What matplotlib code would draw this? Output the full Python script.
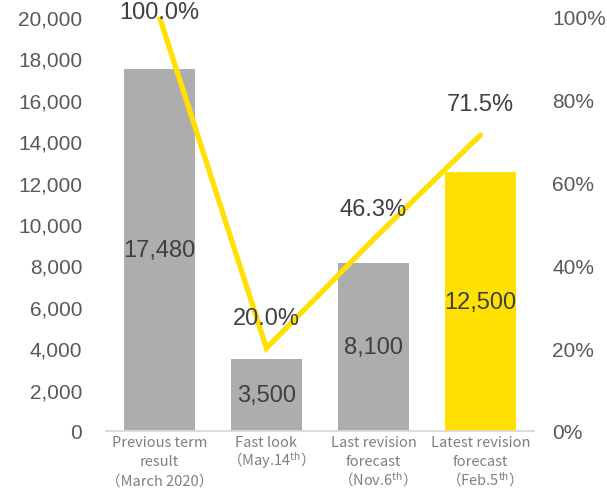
import matplotlib as mpl
import matplotlib.pyplot as plt
import numpy as np
from matplotlib.ticker import FuncFormatter, MultipleLocator

categories = [
    ["Previous term", "result", "（March 2020）"],
    ["Fast look", "（May.14$^{\\mathrm{th}}$）"],
    ["Last revision", "forecast", "（Nov.6$^{\\mathrm{th}}$）"],
    ["Latest revision", "forecast", "（Feb.5$^{\\mathrm{th}}$）"],
]
amounts = [17480, 3500, 8100, 12500]
ratios = [100.0, 20.0, 46.3, 71.5]

GRAY = "#ADADAD"
YELLOW = "#FFE000"
TICK_COLOR = "#595959"
LABEL_COLOR = "#404040"
CAT_COLOR = "#7F7F7F"

mpl.rcParams.update(
    {
        "font.family": ["Liberation Sans", "DejaVu Sans"],
        "mathtext.fontset": "custom",
        "mathtext.rm": "Noto Sans CJK JP",
        "mathtext.it": "Noto Sans CJK JP",
        "mathtext.bf": "Noto Sans CJK JP",
    }
)

fig = plt.figure(figsize=(6.07, 4.89), dpi=100)
ax = fig.add_axes([0.1746, 0.1166, 0.7051, 0.8466])

x = np.arange(len(amounts))
bar_colors = [GRAY, GRAY, GRAY, YELLOW]
bars = ax.bar(x, amounts, width=0.67, color=bar_colors, zorder=2)

for rect, v in zip(bars, amounts):
    ax.text(
        rect.get_x() + rect.get_width() / 2,
        v / 2,
        f"{v:,}",
        ha="center",
        va="center",
        fontsize=17,
        color=LABEL_COLOR,
        zorder=3,
    )

ax.set_xlim(-0.5, len(amounts) - 0.5)
ax.set_ylim(0, 20000)
ax.yaxis.set_major_locator(MultipleLocator(2000))
ax.yaxis.set_major_formatter(FuncFormatter(lambda v, _: f"{v:,.0f}"))
ax.set_xticks(x, [""] * len(x))

for side in ("top", "left", "right"):
    ax.spines[side].set_visible(False)
ax.spines["bottom"].set_color("#D9D9D9")
ax.spines["bottom"].set_linewidth(1.3)

ax.tick_params(axis="y", length=0, pad=17, labelsize=15, labelcolor=TICK_COLOR)
ax.tick_params(axis="x", length=0)

# category names, one text per line so the line pitch stays even
line_pitch = 14.0
for xi, lines in zip(x, categories):
    for k, line in enumerate(lines):
        ax.annotate(
            line,
            (xi, 0),
            xycoords=ax.get_xaxis_transform(),
            xytext=(0, -10.5 - k * line_pitch),
            textcoords="offset points",
            ha="center",
            va="baseline",
            fontsize=10.5,
            color=CAT_COLOR,
            family=["Noto Sans CJK JP", "DejaVu Sans"],
            annotation_clip=False,
        )

# ratio line on the secondary axis
ax2 = ax.twinx()
ax2.set_ylim(0, 100)
ax2.yaxis.set_major_locator(MultipleLocator(20))
ax2.yaxis.set_major_formatter(FuncFormatter(lambda v, _: f"{v:.0f}%"))
ax2.tick_params(axis="y", length=0, pad=13, labelsize=15, labelcolor=TICK_COLOR)
for side in ax2.spines:
    ax2.spines[side].set_visible(False)

ax2.plot(
    x,
    ratios,
    color=YELLOW,
    lw=3.8,
    solid_capstyle="round",
    solid_joinstyle="miter",
    zorder=2,
)

# first label is pulled down so it stays inside the figure
label_offsets = [3.5, 22, 22, 22]
for xi, r, off in zip(x, ratios, label_offsets):
    ax2.annotate(
        f"{r:.1f}%",
        (xi, r),
        xytext=(0, off),
        textcoords="offset points",
        ha="center",
        va="center",
        fontsize=17,
        color=LABEL_COLOR,
        zorder=4,
    )

fig.savefig("out.png", dpi=100)
